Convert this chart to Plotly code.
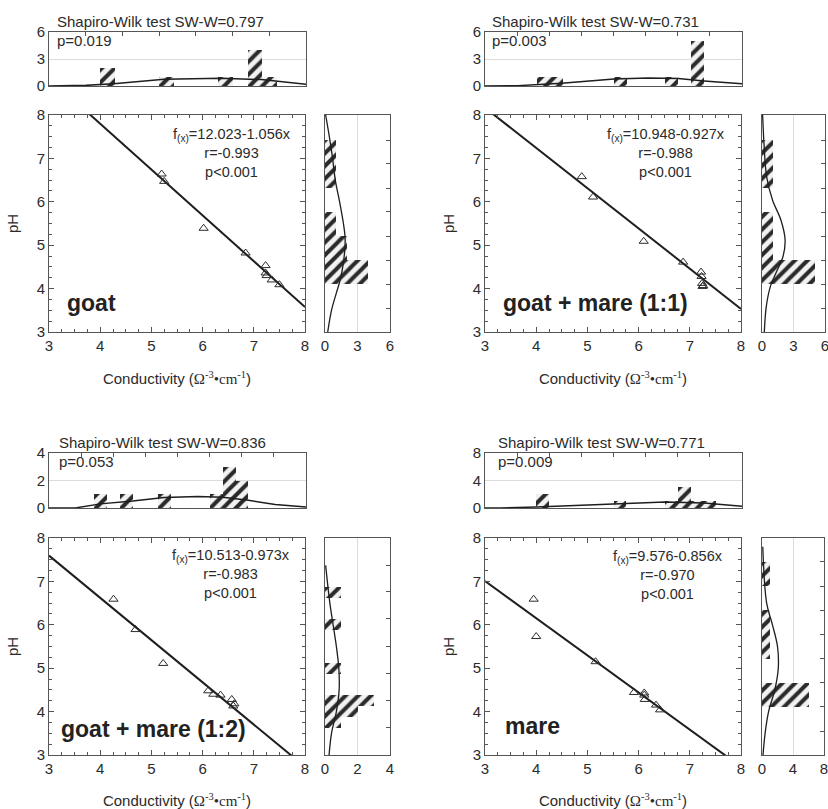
import plotly.graph_objects as go

W, H = 828, 809
FONT = "Liberation Sans, Arial, sans-serif"
TXT = "#2b2b2b"

# ---------------- data ----------------
names = ["goat", "goat + mare (1:1)", "goat + mare (1:2)", "mare"]

goat_cond = [5.20, 5.25, 6.02, 6.84, 7.23, 7.23, 7.25, 7.35, 7.50]
goat_ph = [6.64, 6.47, 5.39, 4.82, 4.53, 4.36, 4.30, 4.20, 4.09]
gm11_cond = [4.89, 5.11, 6.10, 6.87, 7.22, 7.23, 7.24, 7.26, 7.25]
gm11_ph = [6.58, 6.11, 5.09, 4.61, 4.38, 4.28, 4.12, 4.07, 4.05]
gm12_cond = [4.26, 4.69, 5.23, 6.11, 6.21, 6.35, 6.57, 6.60, 6.62]
gm12_ph = [6.59, 5.89, 5.11, 4.48, 4.40, 4.38, 4.28, 4.13, 4.18]
mare_cond = [3.95, 4.00, 5.16, 5.91, 6.11, 6.11, 6.12, 6.34, 6.42]
mare_ph = [6.59, 5.73, 5.15, 4.44, 4.43, 4.38, 4.28, 4.15, 4.04]

fit_intercept = [12.023, 10.948, 10.513, 9.576]
fit_slope = [-1.056, -0.927, -0.973, -0.856]
fit_r = ["-0.993", "-0.988", "-0.983", "-0.970"]
fit_p = ["p<0.001", "p<0.001", "p<0.001", "p<0.001"]
sw_w = ["0.797", "0.731", "0.836", "0.771"]
sw_p = ["0.019", "0.003", "0.053", "0.009"]

# top histograms (conductivity): bin centres, counts, bin width
goat_top_x = [4.14, 5.285, 6.44, 7.01, 7.29]
goat_top_n = [2, 1, 1, 4, 1]
gm11_top_x = [4.135, 4.385, 5.635, 6.635, 7.135]
gm11_top_n = [1, 1, 1, 1, 5]
gm12_top_x = [4.01, 4.505, 5.25, 6.255, 6.505, 6.755]
gm12_top_n = [1, 1, 1, 1, 3, 2]
mare_top_x = [4.125, 5.625, 6.625, 6.875, 7.125, 7.375]
mare_top_n = [2, 1, 1, 3, 1, 1]
top_bin_w = [0.285, 0.25, 0.25, 0.25]

# right histograms (pH): bin centres, counts, bin width
goat_right_y = [4.378, 4.933, 5.488, 6.598, 7.153]
goat_right_n = [4, 2, 1, 1, 1]
gm11_right_y = [4.378, 4.933, 5.488, 6.598, 7.153]
gm11_right_n = [5, 1, 1, 1, 1]
gm12_right_y = [3.75, 4.0, 4.25, 5.0, 6.0, 6.75]
gm12_right_n = [1, 2, 3, 1, 1, 1]
mare_right_y = [4.385, 5.50, 6.06, 7.17]
mare_right_n = [6, 1, 1, 1]
right_bin_w = [0.555, 0.555, 0.25, 0.556]

# fitted normal curves
goat_topc_x = [3, 3.72, 4.26, 5.24, 6.35, 7.13, 8]
goat_topc_y = [0, 0.07, 0.26, 0.75, 0.86, 0.71, 0.19]
gm11_topc_x = [3, 3.63, 4.49, 5.51, 6.17, 6.76, 7.26, 8]
gm11_topc_y = [0, 0.04, 0.3, 0.79, 0.9, 0.82, 0.56, 0.26]
gm12_topc_x = [3, 3.54, 4.0, 4.63, 5.24, 5.9, 6.38, 6.88, 7.4, 8]
gm12_topc_y = [0, 0.02, 0.3, 0.5, 0.76, 0.83, 0.78, 0.56, 0.25, 0.07]
mare_topc_x = [3, 3.3, 4.0, 5.51, 6.5, 7.26, 8]
mare_topc_y = [0, 0, 0.15, 0.64, 0.88, 0.73, 0.25]

goat_rc_y = [8, 7.5, 7, 6.5, 6, 5.5, 5.2, 5, 4.6, 4.2, 3.9, 3.5, 3]
goat_rc_n = [0.06, 0.4, 0.7, 0.95, 1.35, 1.7, 1.85, 1.85, 1.7, 1.4, 1.05, 0.6, 0.25]
gm11_rc_y = [8, 7.3, 6.58, 6.04, 5.58, 5.12, 4.74, 4.36, 4.05, 3.59, 3]
gm11_rc_n = [0.06, 0.2, 0.44, 1.0, 1.8, 2.2, 2.0, 1.33, 0.8, 0.41, 0.22]
gm12_rc_y = [7.37, 6.5, 6.0, 5.5, 5.0, 4.5, 4.0, 3.5, 3.0]
gm12_rc_n = [0.04, 0.3, 0.5, 0.7, 0.85, 0.87, 0.7, 0.4, 0.25]
mare_rc_y = [7.8, 6.5, 6.0, 5.5, 5.0, 4.5, 4.0, 3.5, 3.0]
mare_rc_n = [0.1, 0.6, 1.35, 2.0, 2.1, 1.65, 0.85, 0.4, 0.13]

top_ranges = [[0, 6], [0, 6], [0, 4], [0, 8]]
top_ticks = [[0, 3, 6], [0, 3, 6], [0, 2, 4], [0, 4, 8]]
right_ranges = [[0, 6], [0, 6], [0, 4], [0, 8]]
right_ticks = [[0, 3, 6], [0, 3, 6], [0, 2, 4], [0, 4, 8]]
right_edge_ticks = [
    [3.55, 4.10, 4.65, 5.20, 5.77, 6.31, 6.88, 7.42],
    [3.55, 4.10, 4.65, 5.20, 5.76, 6.31, 6.88, 7.42],
    [3.63, 4.26, 4.87, 5.50, 6.14, 6.76, 7.37],
    [3.55, 4.11, 4.66, 5.22, 5.78, 6.34, 6.89, 7.45],
]
top_dtick = [5 / 7, 5 / 8, 5 / 8, 5 / 8]

cond = [goat_cond, gm11_cond, gm12_cond, mare_cond]
ph = [goat_ph, gm11_ph, gm12_ph, mare_ph]
top_x = [goat_top_x, gm11_top_x, gm12_top_x, mare_top_x]
top_n = [goat_top_n, gm11_top_n, gm12_top_n, mare_top_n]
right_y = [goat_right_y, gm11_right_y, gm12_right_y, mare_right_y]
right_n = [goat_right_n, gm11_right_n, gm12_right_n, mare_right_n]
topc_x = [goat_topc_x, gm11_topc_x, gm12_topc_x, mare_topc_x]
topc_y = [goat_topc_y, gm11_topc_y, gm12_topc_y, mare_topc_y]
rc_y = [goat_rc_y, gm11_rc_y, gm12_rc_y, mare_rc_y]
rc_n = [goat_rc_n, gm11_rc_n, gm12_rc_n, mare_rc_n]

# ---------------- layout geometry (pixels) ----------------
geo = [
    dict(x0=49, x1=305, rx0=325, rx1=390, top=(32, 86), main=(115, 332), sw=(55, 22), lab=(65, 303), eq=(232, 133)),
    dict(x0=485, x1=741, rx0=762, rx1=825, top=(32, 86), main=(115, 332), sw=(490, 22), lab=(501, 303), eq=(666, 133)),
    dict(x0=49, x1=305, rx0=325, rx1=390, top=(453, 508), main=(538, 755), sw=(57, 443), lab=(59, 729), eq=(231, 554)),
    dict(x0=485, x1=741, rx0=762, rx1=824, top=(453, 508), main=(538, 755), sw=(496, 443), lab=(503, 726), eq=(668, 555)),
]


def fx(p):
    return p / W


def fy(p):
    return 1 - p / H


def akey(letter, k):
    return f"{letter}axis" if k == 1 else f"{letter}axis{k}"


def aref(letter, k):
    return letter if k == 1 else f"{letter}{k}"


FRAME = "#555555"
GRID = "#dcdcdc"
pattern = dict(shape="/", fgcolor="#2a2a2a", bgcolor="#f2f2f2", fgopacity=1,
               size=9, solidity=0.45, fillmode="replace")

fig = go.Figure()
layout = {}
annotations = []

for i in range(4):
    g = geo[i]
    km, kt, kr = 3 * i + 1, 3 * i + 2, 3 * i + 3
    tick_font = dict(family=FONT, size=15, color=TXT)

    # ---- main scatter axes
    layout[akey("x", km)] = dict(
        domain=[fx(g["x0"]), fx(g["x1"])], anchor=aref("y", km), range=[3, 8],
        dtick=1, tick0=3, ticks="inside", ticklen=5, tickcolor=FRAME,
        minor=dict(dtick=0.25, ticks="inside", ticklen=3, tickcolor=FRAME),
        showline=True, linecolor=FRAME, linewidth=1, mirror="ticks",
        showgrid=False, zeroline=False, tickfont=tick_font, automargin=False,
        title=dict(
            text="Conductivity (<span style='font-family:Liberation Serif'>Ω<sup>-3</sup>•cm<sup>-1</sup></span>)",
            font=dict(family=FONT, size=15, color=TXT), standoff=20),
    )
    layout[akey("y", km)] = dict(
        domain=[fy(g["main"][1]), fy(g["main"][0])], anchor=aref("x", km), range=[3, 8],
        dtick=1, tick0=3, ticks="inside", ticklen=5, tickcolor=FRAME,
        minor=dict(dtick=0.25, ticks="inside", ticklen=3, tickcolor=FRAME),
        showline=True, linecolor=FRAME, linewidth=1, mirror="ticks",
        showgrid=False, zeroline=False, tickfont=tick_font, automargin=False,
        title=dict(text="pH", font=dict(family=FONT, size=15, color=TXT), standoff=14),
    )

    # ---- top histogram axes
    layout[akey("x", kt)] = dict(
        domain=[fx(g["x0"]), fx(g["x1"] + 1)], anchor=aref("y", kt), range=[3, 8],
        side="top", tick0=3, dtick=top_dtick[i], ticks="inside", ticklen=4, tickcolor=FRAME,
        showticklabels=False, showline=True, linecolor=FRAME, mirror=True,
        showgrid=False, zeroline=False, automargin=False,
    )
    layout[akey("y", kt)] = dict(
        domain=[fy(g["top"][1]), fy(g["top"][0])], anchor=aref("x", kt), range=top_ranges[i],
        tickvals=top_ticks[i], ticks="", showline=True, linecolor=FRAME, mirror=True,
        showgrid=True, gridcolor=GRID, zeroline=False, tickfont=tick_font, automargin=False,
    )

    # ---- right histogram axes
    layout[akey("x", kr)] = dict(
        domain=[fx(g["rx0"]), min(1.0, fx(g["rx1"]))], anchor=aref("y", kr), range=right_ranges[i],
        tickvals=right_ticks[i], ticks="", showline=True, linecolor=FRAME, mirror=True,
        showgrid=True, gridcolor=GRID, zeroline=False, tickfont=tick_font, automargin=False,
        ticklabeloverflow="allow",
    )
    layout[akey("y", kr)] = dict(
        domain=[fy(g["main"][1]), fy(g["main"][0])], anchor=aref("x", kr), range=[3, 8],
        side="right", tickvals=right_edge_ticks[i], ticks="inside", ticklen=4, tickcolor=FRAME,
        showticklabels=False, showline=True, linecolor=FRAME, mirror=True,
        showgrid=False, zeroline=False, automargin=False,
    )

    # ---- traces
    xs = [3, 8]
    fig.add_trace(go.Scatter(
        x=xs, y=[fit_intercept[i] + fit_slope[i] * v for v in xs], mode="lines",
        line=dict(color="#1e1e1e", width=2), xaxis=aref("x", km), yaxis=aref("y", km),
        showlegend=False, hoverinfo="skip"))
    fig.add_trace(go.Scatter(
        x=cond[i], y=ph[i], mode="markers",
        marker=dict(symbol="triangle-up-open", size=8, color="#2b2b2b", line=dict(width=1)),
        xaxis=aref("x", km), yaxis=aref("y", km), showlegend=False))

    fig.add_trace(go.Bar(
        x=top_x[i], y=top_n[i], width=top_bin_w[i],
        marker=dict(color="#2a2a2a", line=dict(width=0), pattern=pattern),
        xaxis=aref("x", kt), yaxis=aref("y", kt), showlegend=False))
    fig.add_trace(go.Scatter(
        x=topc_x[i], y=topc_y[i], mode="lines", line=dict(color="#1e1e1e", width=1.5),
        xaxis=aref("x", kt), yaxis=aref("y", kt), showlegend=False, hoverinfo="skip"))

    fig.add_trace(go.Bar(
        y=right_y[i], x=right_n[i], width=right_bin_w[i], orientation="h",
        marker=dict(color="#2a2a2a", line=dict(width=0), pattern=pattern),
        xaxis=aref("x", kr), yaxis=aref("y", kr), showlegend=False))
    fig.add_trace(go.Scatter(
        x=rc_n[i], y=rc_y[i], mode="lines", line=dict(color="#1e1e1e", width=1.3, shape="spline"),
        xaxis=aref("x", kr), yaxis=aref("y", kr), showlegend=False, hoverinfo="skip"))

    # ---- texts
    annotations.append(dict(
        text=f"Shapiro-Wilk test SW-W={sw_w[i]}", x=fx(g["sw"][0]), y=fy(g["sw"][1]),
        xref="paper", yref="paper", xanchor="left", yanchor="middle", showarrow=False,
        font=dict(family=FONT, size=15, color=TXT)))
    annotations.append(dict(
        text=f"p={sw_p[i]}", x=fx(g["sw"][0]), y=fy(g["sw"][1] + 18),
        xref="paper", yref="paper", xanchor="left", yanchor="middle", showarrow=False,
        font=dict(family=FONT, size=15, color=TXT)))
    a = f"{fit_intercept[i]:.3f}"
    b = f"{-fit_slope[i]:.3f}"
    annotations.append(dict(
        text=f"f<sub>(x)</sub>={a}-{b}x<br>r={fit_r[i]}<br>{fit_p[i]}",
        x=fx(g["eq"][0]), y=fy(g["eq"][1] - 9), xref="paper", yref="paper",
        xanchor="center", yanchor="top", align="center", showarrow=False,
        font=dict(family=FONT, size=14.5, color=TXT)))
    annotations.append(dict(
        text=f"<b>{names[i]}</b>", x=fx(g["lab"][0]), y=fy(g["lab"][1]),
        xref="paper", yref="paper", xanchor="left", yanchor="middle", showarrow=False,
        font=dict(family=FONT, size=23, color="#222222")))

fig.update_layout(
    width=W, height=H, margin=dict(l=0, r=0, t=0, b=0, autoexpand=False),
    paper_bgcolor="white", plot_bgcolor="white",
    annotations=annotations, bargap=0,
    font=dict(family=FONT, color=TXT),
    **layout,
)

fig.write_html(
    "out.html",
    config={"displayModeBar": False},
    post_script="document.body.style.margin='0';document.body.style.overflow='hidden';",
)
